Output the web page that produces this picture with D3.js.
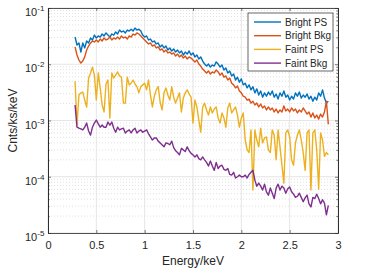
<!DOCTYPE html>
<html>
<head>
<meta charset="utf-8">
<script src="https://cdn.jsdelivr.net/npm/d3@7/dist/d3.min.js"></script>
<style>
  body { margin: 0; background: #fff; }
  text { font-family: "Liberation Sans", Arial, sans-serif; fill: #262626; }
</style>
</head>
<body>
<script>
// spectra, counts/ks/keV in units of 1e-3, bins of 0.02 keV from 0.28 keV
var unit = 1e-3;
var energy = d3.range(132).map(function(i) { return 0.28 + 0.02 * i; });

var brightPS = [30.5, 22, 23.9, 16.5, 23.9, 19.5, 25.9, 23.9, 29.3, 27, 33, 29.3, 31.8,
  30.5, 34.5, 31.8, 36, 33, 30.5, 34.5, 33, 37.5, 34.5, 40.6,
  37.5, 39, 36, 40.6, 39, 42, 39, 44, 40.6, 42,
  39, 33, 30.5, 31.8, 27, 28.1, 24.9, 25.9, 22.9, 23.9,
  20.3, 22, 19.5, 21.1, 17.9, 19.5, 17.2, 18.7, 16.5, 17.9,
  15.9, 17.2, 14.6, 16.5, 15.2, 17.2, 14.6, 15.9, 13.5, 14.6,
  12.4, 13.5, 11.4, 10.1, 9.3, 10.1, 8.9, 9.7, 9.3, 11.0,
  10.1, 8.9, 9.7, 7.9, 8.6, 7.0, 7.6, 6.2, 6.7, 5.25,
  5.9, 4.8, 5.5, 4.3, 4.6, 3.8, 4.3, 3.5, 4.0, 3.1,
  3.65, 2.84, 3.35, 2.6, 3.1, 2.7, 3.2, 2.84, 3.35, 2.6,
  2.95, 2.4, 3.1, 2.7, 3.35, 2.6, 2.84, 2.31, 2.7, 2.4,
  3.1, 2.7, 3.2, 2.5, 2.84, 2.6, 2.95, 2.4, 2.7, 2.2,
  2.6, 2.31, 3.1, 2.7, 3.5, 2.5, 2.04, 2.2];

var brightBkg = [20.3, 14.6, 11.9, 10.5, 11.4, 13.5, 17.9, 21.1, 23.9, 25.9, 24.9, 27, 24.9,
  28.1, 25.9, 29.3, 27, 28.1, 30.5, 27, 29.3, 28.1, 30.5, 28.1,
  31.8, 29.3, 30.5, 28.1, 31.8, 30.5, 34.5, 33, 36, 34.5,
  31.8, 29.3, 27, 24.9, 22.9, 23.9, 21.1, 22, 19.5, 20.3,
  17.9, 18.7, 16.5, 17.9, 15.9, 16.5, 15.2, 15.9, 14.0, 15.2,
  13.5, 14.6, 12.9, 14.0, 12.4, 13.5, 12.9, 11.9, 11.0, 11.9,
  10.1, 9.3, 8.2, 7.6, 7.0, 7.6, 6.7, 7.3, 7.0, 7.9,
  7.3, 6.4, 7.0, 5.9, 6.2, 5.25, 5.7, 4.6, 4.3, 3.8,
  4.1, 3.35, 3.1, 2.7, 2.6, 2.31, 2.4, 2.04, 2.2, 1.89,
  2.04, 1.74, 1.96, 1.67, 1.81, 1.54, 1.74, 1.54, 1.67, 1.42,
  1.6, 1.36, 1.54, 1.42, 1.81, 1.48, 1.6, 1.42, 1.67, 1.48,
  1.6, 1.36, 1.54, 1.42, 1.67, 1.48, 1.3, 1.42, 1.15, 1.36,
  1.11, 1.25, 1.06, 1.3, 1.15, 1.42, 2.2, 0.86];

var faintPS = [5.0, 0.83, 2.84, 3.1, 3.2, 2.31, 1.74, 5.7, 7.0, 8.9, 6.4, 2.31, 7.0,
  3.8, 1.89, 1.42, 4.45, 5.25, 1.11, 7.0, 5.7, 6.4, 7.3, 6.2,
  5.9, 2.04, 2.04, 5.9, 4.3, 4.6, 5.25, 4.45, 4.0, 3.1,
  4.0, 4.3, 4.6, 3.5, 5.25, 2.84, 1.74, 2.7, 3.5, 4.0,
  2.13, 1.54, 3.1, 3.8, 2.84, 2.31, 4.0, 2.6, 2.04, 2.5,
  3.1, 1.42, 2.5, 3.1, 3.5, 2.95, 2.6, 0.9, 2.31, 1.74,
  1.02, 0.62, 1.74, 2.04, 1.54, 1.25, 1.74, 1.36, 1.6, 1.74,
  1.11, 0.9, 1.36, 1.11, 0.76, 1.67, 2.04, 1.36, 1.54, 1.74,
  1.25, 0.76, 1.11, 1.36, 0.45, 0.30, 0.27, 0.68, 0.058, 0.68,
  0.45, 0.34, 0.73, 0.40, 0.49, 0.51, 0.30, 0.27, 0.68, 0.55,
  0.20, 0.68, 0.34, 0.16, 0.077, 0.6, 0.68, 0.51, 0.20, 0.16,
  0.40, 0.55, 0.68, 0.45, 0.27, 0.13, 0.6, 0.68, 0.058, 0.6,
  0.68, 0.30, 0.06, 0.6, 0.45, 0.23, 0.27, 0.245];

var faintBkg = [1.89, 0.76, 0.73, 0.71, 0.68, 0.76, 0.90, 0.65, 0.55, 0.76, 0.90, 1.02, 0.87,
  0.76, 0.83, 0.76, 0.76, 0.94, 0.83, 0.94, 0.73, 0.62, 0.76, 0.68,
  0.71, 0.73, 0.60, 0.65, 0.68, 0.60, 0.68, 0.73, 0.60, 0.65,
  0.68, 0.62, 0.65, 0.68, 0.58, 0.51, 0.45, 0.49, 0.49, 0.43,
  0.40, 0.37, 0.34, 0.40, 0.39, 0.37, 0.43, 0.33, 0.29, 0.27,
  0.245, 0.32, 0.30, 0.28, 0.34, 0.29, 0.26, 0.245, 0.225, 0.245,
  0.21, 0.20, 0.225, 0.20, 0.18, 0.155, 0.19, 0.155, 0.13, 0.18,
  0.14, 0.155, 0.16, 0.135, 0.13, 0.14, 0.11, 0.107, 0.12, 0.095,
  0.10, 0.107, 0.10, 0.10, 0.107, 0.095, 0.11, 0.12, 0.13, 0.087,
  0.068, 0.077, 0.068, 0.058, 0.074, 0.054, 0.047, 0.063, 0.051, 0.041,
  0.063, 0.074, 0.058, 0.068, 0.063, 0.051, 0.061, 0.066, 0.054, 0.049,
  0.043, 0.045, 0.051, 0.043, 0.036, 0.042, 0.047, 0.033, 0.029, 0.043,
  0.041, 0.049, 0.041, 0.033, 0.039, 0.034, 0.021, 0.031];

var seriesNames = ["Bright PS", "Bright Bkg", "Faint PS", "Faint Bkg"];
var seriesValues = [brightPS, brightBkg, faintPS, faintBkg];
var colors = ["#0072BD", "#D95319", "#EDB120", "#7E2F8E"];

var xTicks = [0, 0.5, 1, 1.5, 2, 2.5, 3];
var yExponents = [-5, -4, -3, -2, -1];

var width = 374;
var height = 270;
var plotLeft = 48, plotRight = 338, plotTop = 8, plotBottom = 233;

var svg = d3.select("body").append("svg")
    .attr("width", width)
    .attr("height", height);

var x = d3.scaleLinear().domain([0, 3]).range([plotLeft, plotRight]);
var y = d3.scaleLog().domain([1e-5, 1e-1]).range([plotBottom, plotTop]);

var majorY = yExponents.map(function(e) { return Math.pow(10, e); });

// minor values of the log axis
var minor = [];
yExponents.slice(0, 4).forEach(function(e) {
  for (var m = 2; m <= 9; m++) minor.push(m * Math.pow(10, e));
});

// grid
var grid = svg.append("g");
grid.selectAll(".minor").data(minor).enter().append("line")
    .attr("x1", plotLeft).attr("x2", plotRight)
    .attr("y1", function(d) { return y(d); })
    .attr("y2", function(d) { return y(d); })
    .attr("stroke", "#d2d2d2")
    .attr("stroke-width", 0.7)
    .attr("stroke-dasharray", "1,2");
grid.selectAll(".hmajor").data(majorY).enter().append("line")
    .attr("x1", plotLeft).attr("x2", plotRight)
    .attr("y1", function(d) { return y(d); })
    .attr("y2", function(d) { return y(d); })
    .attr("stroke", "#dedede")
    .attr("stroke-width", 0.8);
grid.selectAll(".vmajor").data(xTicks).enter().append("line")
    .attr("y1", plotTop).attr("y2", plotBottom)
    .attr("x1", function(d) { return x(d); })
    .attr("x2", function(d) { return x(d); })
    .attr("stroke", "#dedede")
    .attr("stroke-width", 0.8);

// spectra
var line = d3.line()
    .x(function(d, i) { return x(energy[i]); })
    .y(function(d) { return y(d * unit); });

svg.append("g").selectAll("path")
    .data(seriesValues)
  .enter().append("path")
    .attr("d", line)
    .attr("fill", "none")
    .attr("stroke", function(d, i) { return colors[i]; })
    .attr("stroke-width", 1.4)
    .attr("stroke-linejoin", "round");

// axes, ticks pointing inward, box all round
var xAxis = svg.append("g")
    .attr("transform", "translate(0," + plotBottom + ")")
    .call(d3.axisBottom(x).tickValues(xTicks).tickSizeInner(-3).tickSizeOuter(0)
      .tickFormat(d3.format("")));
xAxis.selectAll("text").attr("font-size", "11px").attr("y", 8).attr("dy", "0.71em");

svg.append("g")
    .attr("transform", "translate(0," + plotTop + ")")
    .call(d3.axisTop(x).tickValues(xTicks).tickSizeInner(-3).tickSizeOuter(0).tickFormat(""));

svg.append("g")
    .attr("transform", "translate(" + plotLeft + ",0)")
    .call(d3.axisLeft(y).tickValues(majorY).tickSizeInner(-3).tickSizeOuter(0).tickFormat(""));
svg.append("g")
    .attr("transform", "translate(" + plotRight + ",0)")
    .call(d3.axisRight(y).tickValues(majorY).tickSizeInner(-3).tickSizeOuter(0).tickFormat(""));

svg.append("g")
    .attr("transform", "translate(" + plotLeft + ",0)")
    .call(d3.axisLeft(y).tickValues(minor).tickSizeInner(-1.6).tickSizeOuter(0).tickFormat(""));
svg.append("g")
    .attr("transform", "translate(" + plotRight + ",0)")
    .call(d3.axisRight(y).tickValues(minor).tickSizeInner(-1.6).tickSizeOuter(0).tickFormat(""));

svg.selectAll(".domain").attr("stroke", "#262626").attr("stroke-width", 0.8);
svg.selectAll(".tick line").attr("stroke", "#262626").attr("stroke-width", 0.6);

// y tick labels as 10 with superscript exponent
var yLabels = svg.append("g").selectAll("text")
    .data(yExponents)
  .enter().append("text")
    .attr("x", 25)
    .attr("y", function(d) { return y(Math.pow(10, d)) + 8; })
    .attr("font-size", "11px");
yLabels.append("tspan").text("10");
yLabels.append("tspan")
    .attr("font-size", "8px")
    .attr("dy", -5)
    .text(function(d) { return "-" + Math.abs(d); });

// axis labels
svg.append("text")
    .attr("x", (plotLeft + plotRight) / 2)
    .attr("y", 265)
    .attr("text-anchor", "middle")
    .attr("font-size", "12px")
    .text("Energy/keV");

svg.append("text")
    .attr("transform", "translate(17," + ((plotTop + plotBottom) / 2) + ") rotate(-90)")
    .attr("text-anchor", "middle")
    .attr("font-size", "12px")
    .text("Cnts/ks/keV");

// legend
var legend = svg.append("g");
legend.append("rect")
    .attr("x", 248).attr("y", 13)
    .attr("width", 85).attr("height", 58)
    .attr("fill", "#fff")
    .attr("stroke", "#262626")
    .attr("stroke-width", 0.7);

var items = legend.selectAll(".item")
    .data(seriesNames)
  .enter().append("g")
    .attr("transform", function(d, i) { return "translate(0," + (22 + i * 13.7) + ")"; });
items.append("line")
    .attr("x1", 254).attr("x2", 281)
    .attr("stroke", function(d, i) { return colors[i]; })
    .attr("stroke-width", 1.4);
items.append("text")
    .attr("x", 285)
    .attr("dy", "0.35em")
    .attr("font-size", "10px")
    .text(function(d) { return d; });
</script>
</body>
</html>
